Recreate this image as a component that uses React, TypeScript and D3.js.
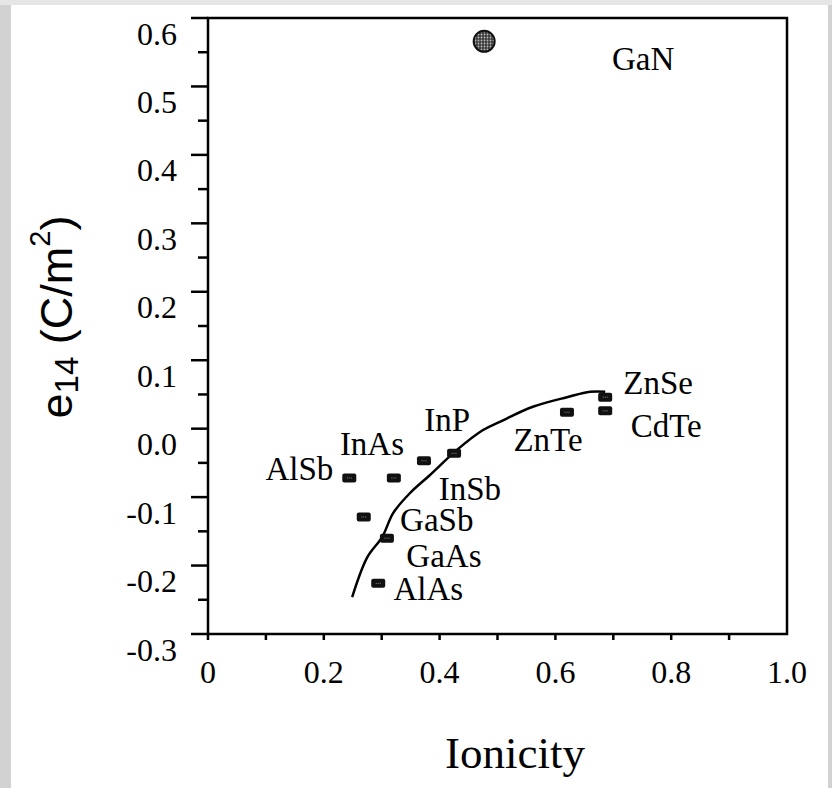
import * as d3 from 'd3';
import React from 'react';

// compounds and their (ionicity, e14) values
const compounds = ['AlSb', 'InSb', 'InAs', 'InP', 'GaSb', 'GaAs', 'AlAs', 'ZnTe', 'ZnSe', 'CdTe'];
const ionicity = [0.244, 0.321, 0.373, 0.425, 0.269, 0.309, 0.294, 0.62, 0.686, 0.686];
const e14 = [-0.072, -0.072, -0.047, -0.036, -0.129, -0.16, -0.226, 0.024, 0.046, 0.026];

const ganLabel = 'GaN';
const ganIonicity = 0.477;
const ganE14 = 0.566;

// fitted trend curve
const curveIonicity = [0.249, 0.275, 0.301, 0.32, 0.349, 0.383, 0.43, 0.475, 0.504, 0.561, 0.62, 0.66, 0.686];
const curveE14 = [-0.246, -0.188, -0.158, -0.123, -0.094, -0.068, -0.031, -0.002, 0.01, 0.032, 0.046, 0.054, 0.054];

const xTickValues = [0, 0.1, 0.2, 0.3, 0.4, 0.5, 0.6, 0.7, 0.8, 0.9, 1.0];
const xTickLabels = ['0', '0.2', '0.4', '0.6', '0.8', '1.0'];
const xLabelValues = [0, 0.2, 0.4, 0.6, 0.8, 1.0];
const yTickValues = [-0.3, -0.2, -0.1, 0, 0.1, 0.2, 0.3, 0.4, 0.5, 0.6];
const yTickLabels = ['-0.3', '-0.2', '-0.1', '0.0', '0.1', '0.2', '0.3', '0.4', '0.5', '0.6'];
const yMinorValues = [-0.25, -0.15, -0.05, 0.05, 0.15, 0.25, 0.35, 0.45, 0.55];

// label placement (pixel offsets from the marker), kept apart from the data
const labelOffsets: Record<string, [number, number, string]> = {
  AlSb: [-16, -9, 'end'],
  InSb: [76, 11, 'middle'],
  InAs: [-52, -17, 'middle'],
  InP: [-7, -33, 'middle'],
  GaSb: [73, 3, 'middle'],
  GaAs: [57, 18, 'middle'],
  AlAs: [50, 6, 'middle'],
  ZnTe: [-19, 28, 'middle'],
  ZnSe: [53, -14, 'middle'],
  CdTe: [61, 15, 'middle'],
  GaN: [159, 18, 'middle'],
};

const W = 832;
const H = 788;
const serif = '"Liberation Serif", "Times New Roman", serif';
const sans = '"Liberation Sans", Arial, sans-serif';

const App = () => {
  const x = d3.scaleLinear().domain([0, 1]).range([208, 787]);
  const y = d3.scaleLinear().domain([-0.3, 0.6]).range([634, 18]);

  const line = d3
    .line<number>()
    .x((d) => x(d))
    .y((_, i) => y(curveE14[i]))
    .curve(d3.curveCatmullRom);

  const capHalf = 11; // half cap height of 33px serif labels

  return (
    <svg width={W} height={H} style={{ position: 'absolute', left: 0, top: 0 }}>
      <defs>
        <pattern id="dots" width="3" height="3" patternUnits="userSpaceOnUse">
          <rect width="3" height="3" fill="#3a3a3a" />
          <circle cx="1.5" cy="1.5" r="0.9" fill="#bdbdbd" />
        </pattern>
      </defs>
      {/* page background with gray frame */}
      <rect x={0} y={0} width={W} height={H} fill="#d2d2d2" />
      <rect x={0} y={0} width={W} height={5} fill="#e6e6e6" />
      <rect x={11} y={5} width={W - 11 - 4} height={H - 5} fill="#ffffff" />

      {/* y ticks */}
      <g stroke="#000" strokeWidth={2.5}>
        {yTickValues.map((v) => (
          <line key={'M' + v} x1={x(0) - 17} x2={x(0)} y1={y(v)} y2={y(v)} />
        ))}
        {yMinorValues.map((v) => (
          <line key={'m' + v} x1={x(0) - 10} x2={x(0)} y1={y(v)} y2={y(v)} />
        ))}
        {xTickValues.slice(0, -1).map((v) => (
          <line key={'x' + v} x1={x(v)} x2={x(v)} y1={y(-0.3)} y2={y(-0.3) + 6} />
        ))}
      </g>

      {/* frame */}
      <rect
        x={x(0)}
        y={y(0.6)}
        width={x(1) - x(0)}
        height={y(-0.3) - y(0.6)}
        fill="none"
        stroke="#000"
        strokeWidth={2.5}
      />

      {/* y tick labels */}
      <g fontFamily={serif} fontSize={32} fill="#000" textAnchor="end">
        {yTickValues.map((v, i) => (
          <text key={v} x={177} y={y(v) + 16 + 10.5}>
            {yTickLabels[i]}
          </text>
        ))}
      </g>
      {/* x tick labels */}
      <g fontFamily={serif} fontSize={32} fill="#000" textAnchor="middle">
        {xLabelValues.map((v, i) => (
          <text key={v} x={x(v)} y={y(-0.3) + 38 + 10.5}>
            {xTickLabels[i]}
          </text>
        ))}
      </g>

      {/* trend curve */}
      <path d={line(curveIonicity) || ''} fill="none" stroke="#000" strokeWidth={2.5} />

      {/* markers */}
      <g>
        {compounds.map((c, i) => (
          <g key={c} transform={`translate(${x(ionicity[i])},${y(e14[i])})`}>
            <rect x={-7} y={-4.5} width={14} height={9} rx={2} fill="#111" />
            <line x1={-2.5} x2={2.5} y1={0} y2={0} stroke="#888" strokeWidth={1} strokeDasharray="1 1" />
          </g>
        ))}
      </g>
      <circle cx={x(ganIonicity)} cy={y(ganE14)} r={10.5} fill="url(#dots)" stroke="#111" strokeWidth={2} />

      {/* compound labels */}
      <g fontFamily={serif} fontSize={33} fill="#000">
        {compounds.map((c, i) => {
          const [dx, dy, anchor] = labelOffsets[c];
          return (
            <text key={c} x={x(ionicity[i]) + dx} y={y(e14[i]) + dy + capHalf} textAnchor={anchor}>
              {c}
            </text>
          );
        })}
        <text
          x={x(ganIonicity) + labelOffsets[ganLabel][0]}
          y={y(ganE14) + labelOffsets[ganLabel][1] + capHalf}
          textAnchor="middle"
        >
          {ganLabel}
        </text>
      </g>

      {/* axis titles */}
      <text x={515} y={768} fontFamily={serif} fontSize={45} textAnchor="middle" fill="#000">
        Ionicity
      </text>
      <text
        transform="translate(72,317) rotate(-90)"
        fontFamily={sans}
        fontSize={45}
        textAnchor="middle"
        fill="#000"
      >
        e
        <tspan fontSize={33} dy={6}>14</tspan>
        <tspan dy={-6}> (C/m</tspan>
        <tspan fontSize={29} dy={-22}>2</tspan>
        <tspan dy={22}>)</tspan>
      </text>
    </svg>
  );
};

export default App;
